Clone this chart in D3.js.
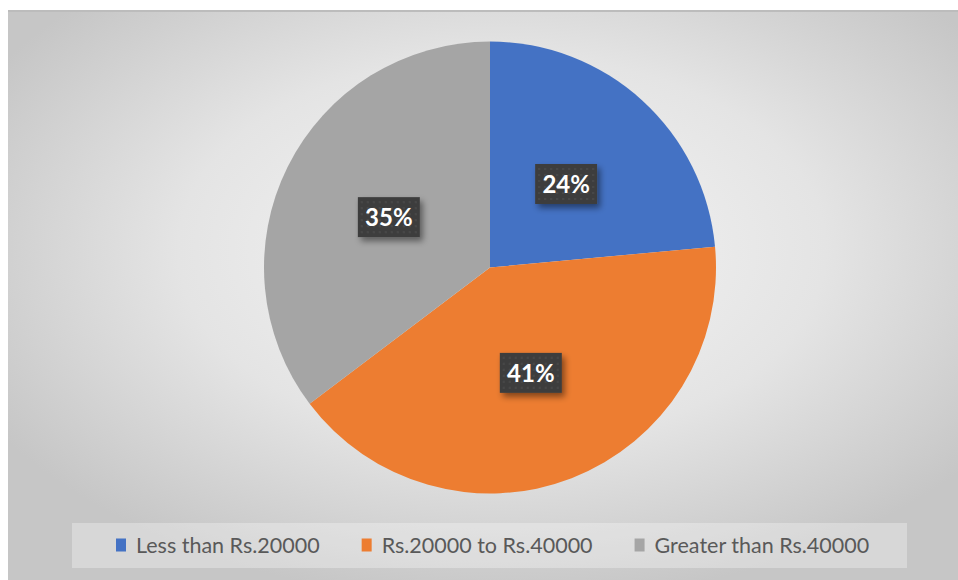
<!DOCTYPE html>
<html>
<head>
<meta charset="utf-8">
<script src="https://cdn.jsdelivr.net/npm/d3@7"></script>
<style>
  body { margin: 0; background: #fff; }
  svg { display: block; }
</style>
</head>
<body>
<script>
// data
const categories = ["Less than Rs.20000", "Rs.20000 to Rs.40000", "Greater than Rs.40000"];
const counts = [20, 35, 30];
const colors = ["#4472C4", "#ED7D31", "#A5A5A5"];

const width = 958, height = 580;
const svg = d3.select("body").append("svg")
  .attr("width", width)
  .attr("height", height);

const defs = svg.append("defs");

// background gradient of the chart area
const grad = defs.append("radialGradient")
  .attr("id", "bg")
  .attr("cx", "52%").attr("cy", "42%").attr("r", "62%");
grad.append("stop").attr("offset", "0%").attr("stop-color", "#f6f6f6");
grad.append("stop").attr("offset", "55%").attr("stop-color", "#e4e4e4");
grad.append("stop").attr("offset", "100%").attr("stop-color", "#c6c6c6");

// shadow for the label boxes
const shadow = defs.append("filter").attr("id", "shadow")
  .attr("x", "-30%").attr("y", "-30%").attr("width", "170%").attr("height", "180%");
shadow.append("feDropShadow")
  .attr("dx", 3).attr("dy", 4).attr("stdDeviation", 3)
  .attr("flood-color", "#000").attr("flood-opacity", 0.45);

// faint dot texture of the label boxes
const pat = defs.append("pattern").attr("id", "dots")
  .attr("width", 6).attr("height", 6).attr("patternUnits", "userSpaceOnUse");
pat.append("rect").attr("width", 6).attr("height", 6).attr("fill", "#3e3e3e");
pat.append("circle").attr("cx", 3).attr("cy", 3).attr("r", 1).attr("fill", "#4a4a4a");

// chart area
svg.append("rect")
  .attr("x", 8).attr("y", 10)
  .attr("width", width - 8).attr("height", height - 10)
  .attr("fill", "url(#bg)");
svg.append("line")
  .attr("x1", 8).attr("x2", width)
  .attr("y1", 11).attr("y2", 11)
  .attr("stroke", "#bcbcbc").attr("stroke-width", 2);

// pie
const cx = 490, cy = 267.5, radius = 226;
const total = d3.sum(counts);
const pct = d3.format(".0%");

const pie = d3.pie().sort(null).value(d => d)(counts);
const arc = d3.arc().innerRadius(0).outerRadius(radius);

const g = svg.append("g").attr("transform", `translate(${cx},${cy})`);

g.selectAll("path")
  .data(pie)
  .enter()
  .append("path")
  .attr("d", arc)
  .attr("fill", (d, i) => colors[i]);

// labels
const labels = g.selectAll("g.lbl")
  .data(pie)
  .enter()
  .append("g")
  .attr("class", "lbl")
  .attr("transform", d => `translate(${arc.centroid(d)})`);

labels.append("rect")
  .attr("x", -31).attr("y", -20)
  .attr("width", 62).attr("height", 40)
  .attr("fill", "url(#dots)")
  .attr("filter", "url(#shadow)");

labels.append("text")
  .attr("text-anchor", "middle")
  .attr("dy", "0.36em")
  .attr("font-family", "Lato, 'Open Sans', sans-serif")
  .attr("font-weight", "bold")
  .attr("font-size", 24)
  .attr("fill", "#fff")
  .text(d => pct(d.value / total));

// legend
svg.append("rect")
  .attr("x", 72).attr("y", 523)
  .attr("width", 835).attr("height", 45)
  .attr("fill", "#fff").attr("fill-opacity", 0.3);

const legend = svg.append("g").attr("transform", "translate(0,545)");
let lx = 116;
categories.forEach((c, i) => {
  legend.append("rect")
    .attr("x", lx).attr("y", -6.5)
    .attr("width", 10).attr("height", 13)
    .attr("fill", colors[i]);
  const t = legend.append("text")
    .attr("x", lx + 20)
    .attr("y", 7.5)
    .attr("font-family", "Lato, 'Open Sans', sans-serif")
    .attr("font-size", 21.5)
    .attr("fill", "#595959")
    .text(c);
  lx += 20 + t.node().getComputedTextLength() + 42;
});
</script>
</body>
</html>
